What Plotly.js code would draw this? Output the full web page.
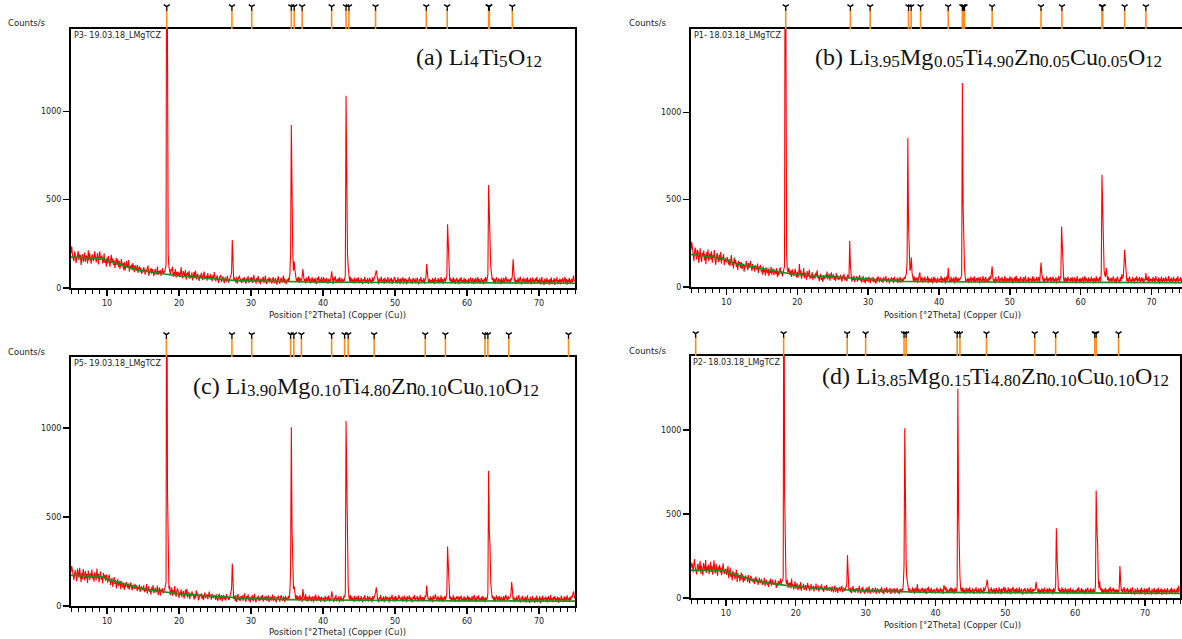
<!DOCTYPE html>
<html><head><meta charset="utf-8">
<script src="https://cdn.plot.ly/plotly-3.0.1.min.js"></script>
<style>html,body{margin:0;padding:0;overflow:hidden;background:#fff}#chart{width:1190px;height:639px}</style>
</head><body><div id="chart"></div>
<script>
// scan: 5.0 .. 75.0 °2θ, step 0.1 (one line = 5°)
const scanStart = 5, scanStep = 0.1;

const countsA = [
198,236,185,170,152,206,188,141,163,176, 209,158,190,183,130,171,192,148,165,201, 148,184,177,139,214,156,196,169,137,180, 190,152,162,207,181,145,174,198,133,166, 207,159,172,184,139,150,196,142,164,121,
172,139,181,161,120,155,188,143,168,130, 157,112,149,170,131,162,118,152,108,146, 163,126,140,104,147,98,139,152,115,127, 158,92,124,110,133,101,141,117,89,129, 118,98,131,85,109,122,93,115,80,104,
88,119,101,76,104,92,112,127,70,95, 98,113,81,107,95,67,89,108,86,76, 121,74,96,82,101,68,90,112,79,94, 88,105,130,2600,640,188,120,95,77,108, 98,121,64,88,75,107,59,92,83,70,
92,61,78,118,74,55,96,83,66,101, 47,79,88,64,96,52,71,60,88,43, 76,92,60,99,49,68,81,57,40,73, 57,86,64,45,77,93,50,62,70,41, 84,55,66,48,79,61,38,72,56,90,
62,38,55,71,45,29,58,66,74,33, 50,66,41,27,60,48,35,69,52,30, 44,58,70,84,272,95,41,59,36,30, 63,24,48,57,70,35,52,28,46,57, 33,61,40,25,54,47,68,29,38,58,
44,61,29,52,73,36,48,25,58,40, 67,31,49,21,55,38,44,64,27,46, 70,33,23,51,42,60,30,54,37,25, 49,62,33,28,56,41,19,52,66,35, 24,47,59,31,43,70,28,53,38,22,
48,33,57,41,80,190,922,420,200,98, 150,104,62,41,55,35,62,29,57,44, 36,63,107,70,38,51,24,59,36,47, 68,30,54,26,45,61,32,50,27,57, 39,22,58,43,66,28,48,35,62,31,
45,61,32,50,27,57,38,24,52,46, 33,58,95,60,22,58,43,66,28,48, 35,54,29,61,40,26,55,37,49,30, 52,70,1087,430,197,118,80,37,63,29, 55,33,48,24,59,40,28,54,36,61,
26,45,31,57,35,22,50,39,63,27, 46,34,56,23,42,58,30,44,25,61, 37,49,65,80,100,62,35,21,55,33, 46,64,28,40,52,24,59,35,47,29, 62,41,26,53,38,57,22,48,31,60,
58,30,44,25,61,37,49,21,55,33, 43,60,25,52,37,55,20,46,33,58, 62,28,49,36,23,57,41,30,54,26, 44,59,32,21,50,38,63,27,45,34, 56,24,48,62,135,76,45,30,52,27,
45,27,56,33,49,22,60,38,44,31, 57,26,48,35,62,29,51,24,43,58, 36,47,70,360,232,92,41,57,26,48, 34,61,27,50,23,45,57,30,46,21, 55,38,61,27,44,33,57,25,50,36,
42,26,53,31,47,60,28,39,55,22, 48,35,58,27,44,62,30,51,24,40, 57,33,46,21,53,37,62,28,45,75, 582,380,303,118,86,45,59,30,52,24, 46,61,34,27,55,39,48,22,57,31,
35,58,27,49,64,40,29,52,36,47, 30,55,43,72,163,98,37,53,22,45, 30,57,26,48,63,34,21,50,38,59, 24,44,53,31,60,27,46,35,57,20, 42,59,33,48,25,55,37,62,28,45,
31,55,20,47,62,29,41,18,53,36, 24,58,33,45,19,51,28,60,22,43, 35,56,17,49,38,61,26,44,31,54, 21,47,36,58,25,42,63,30,50,19, 46,34,57,23,41,52,28,49,70,38,
45];

const countsB = [
212,258,230,171,149,197,226,190,158,214, 203,137,184,221,166,143,195,178,209,152, 187,131,199,163,214,148,176,193,158,205, 139,182,168,211,150,127,176,194,160,143, 186,152,201,134,171,158,189,125,163,147,
141,172,155,128,160,119,151,183,124,146, 106,168,133,155,114,139,97,150,122,142, 109,143,101,131,128,88,125,112,150,118, 96,137,108,126,149,115,92,131,104,120, 88,125,112,99,134,81,117,102,127,93,
96,71,118,84,103,65,112,89,77,106, 62,94,81,115,70,92,106,68,99,84, 73,109,58,85,67,98,112,76,90,61, 88,100,120,2600,620,182,96,82,110,73, 67,95,58,101,84,63,79,106,72,55,
88,54,76,131,70,95,47,79,62,108, 51,83,66,42,91,58,74,99,45,68, 53,86,39,72,60,48,81,66,95,50, 63,34,57,76,41,52,29,68,45,60, 70,52,88,43,61,77,36,58,84,49,
56,73,41,62,35,80,48,66,39,59, 44,70,52,31,63,47,75,38,57,45, 33,71,58,62,264,120,46,30,58,39, 65,27,51,43,62,31,55,40,68,36, 54,25,47,63,30,42,20,57,35,49,
28,60,39,22,51,44,33,58,26,46, 37,19,53,32,61,40,27,55,44,30, 48,23,56,35,41,62,26,45,33,52, 20,44,38,57,29,49,24,60,36,42, 31,54,22,47,36,58,25,43,51,28,
41,58,46,60,79,150,853,360,130,92, 110,169,80,48,34,61,27,50,38,55, 23,46,64,84,30,42,57,25,49,36, 60,29,47,38,62,24,51,33,45,28, 56,21,45,60,31,49,37,24,53,40,
29,47,38,62,24,51,40,33,56,21, 45,60,31,110,49,40,26,58,35,47, 33,56,21,45,60,31,49,27,52,38, 44,57,68,1167,470,203,112,57,28,43, 35,52,22,48,36,59,27,44,53,30,
61,25,39,50,33,55,46,20,58,37, 42,28,63,34,24,49,57,31,44,26, 53,38,62,45,70,118,55,33,46,20, 58,37,42,28,63,34,24,49,38,57, 26,45,31,62,40,23,52,35,48,27,
60,43,30,55,21,46,36,58,25,64, 34,51,29,47,22,59,38,44,27,56, 31,48,63,25,42,35,57,20,50,39, 46,28,61,33,54,24,45,37,58,30, 43,56,25,64,140,80,41,33,54,22,
47,39,61,28,50,35,44,58,23,51, 36,60,29,45,33,56,21,48,39,62, 27,44,66,346,236,88,42,27,56,31, 49,23,60,37,45,29,52,34,57,26, 41,55,30,48,22,63,36,44,28,52,
26,48,34,57,21,43,62,30,51,38, 24,55,32,45,28,59,36,47,20,53, 39,27,61,33,50,24,46,58,31,80, 642,420,323,96,68,58,110,68,40,58, 29,47,36,53,25,44,61,38,30,50,
22,46,59,31,42,27,56,35,72,48, 60,120,213,156,70,33,50,22,46,59, 31,42,27,56,35,48,20,53,39,61, 29,47,36,58,24,43,55,30,49,22, 45,38,80,39,54,30,61,26,47,35,
45,26,58,34,49,21,62,37,43,28, 55,19,47,33,60,24,41,52,29,38, 57,22,46,35,63,31,48,27,53,40, 24,59,36,45,20,52,33,61,28,44, 37,56,23,48,31,62,26,45,39,54,
31];

const countsC = [
189,224,201,163,147,182,201,176,138,210, 192,159,215,171,134,186,150,208,167,143, 196,155,180,129,199,172,146,184,161,205, 153,176,137,190,168,145,211,158,181,132, 170,194,148,163,127,186,159,174,141,177,
165,131,148,176,152,119,142,158,107,137, 162,124,145,99,133,151,112,128,141,95, 140,117,104,130,90,121,108,135,115,99, 126,92,114,131,103,88,120,107,96,125, 98,116,84,108,93,121,79,102,111,90,
92,116,78,101,85,123,69,97,110,80, 93,64,105,83,118,72,91,102,75,87, 115,61,87,104,58,92,79,99,70,84, 90,112,135,2600,650,178,97,115,61,87, 104,58,90,63,112,71,52,86,99,77,
45,77,61,94,50,69,85,41,74,92, 58,96,47,66,79,38,70,55,83,62, 60,36,69,43,88,56,72,31,48,64, 54,71,40,62,33,58,76,45,52,67, 39,57,81,48,63,35,70,52,44,59,
57,34,66,41,29,53,70,33,46,61, 26,48,62,37,55,30,67,43,51,34, 40,57,78,96,238,88,40,57,29,61, 23,46,68,33,50,27,55,42,59,28, 50,71,34,24,56,39,65,30,47,20,
53,36,62,26,44,68,32,22,49,40, 58,29,46,31,55,37,63,25,42,51, 34,57,28,45,60,23,41,52,30,48, 64,27,39,55,33,21,50,43,58,36, 25,47,61,38,29,53,44,22,57,35,
46,31,55,42,82,200,1005,430,160,95, 110,60,40,60,34,55,42,28,61,37, 49,23,95,57,35,45,66,29,52,25, 43,59,31,48,26,55,38,21,56,41, 64,27,46,34,58,30,49,23,52,37,
32,46,23,57,39,27,52,35,59,25, 43,30,82,55,34,21,48,38,61,26, 44,33,54,22,40,56,29,42,24,59, 48,72,1040,660,190,110,50,36,61,28, 53,32,46,23,57,39,27,52,35,59,
25,43,30,55,34,21,48,38,61,26, 41,35,57,24,46,53,31,44,20,56, 36,47,62,75,105,55,34,21,48,38, 61,26,44,33,54,22,40,57,28,50, 36,47,20,53,32,44,62,27,39,50,
23,57,34,45,28,60,52,37,46,31, 54,25,41,58,30,47,22,55,36,43, 59,28,49,33,21,52,40,62,27,45, 38,56,24,47,35,61,29,42,50,26, 48,33,60,52,115,68,37,43,26,54,
32,47,21,58,37,42,65,50,29,44, 55,25,46,34,60,28,49,23,41,56, 30,45,72,334,212,86,40,55,25,46, 34,60,28,49,23,41,56,37,52,21, 53,37,59,26,42,32,55,24,48,35,
40,58,29,50,23,44,34,56,26,47, 62,31,45,22,54,38,60,27,43,35, 51,24,57,33,46,20,49,36,41,72, 760,420,330,130,84,44,57,29,50,23, 44,60,30,48,35,57,26,42,53,31,
34,56,26,47,62,41,29,55,37,45, 50,70,135,95,36,51,21,43,29,55, 25,46,61,33,20,48,37,57,23,42, 30,53,19,45,60,28,39,17,51,35, 23,56,32,43,18,49,27,58,21,41,
34,54,16,47,31,58,24,43,36,52, 27,49,20,55,38,29,61,33,45,22, 50,36,57,25,44,31,53,19,47,39, 28,59,35,42,21,54,30,48,26,60, 37,45,23,51,33,56,47,68,82,55,
40];

const countsD = [
178,210,195,152,196,231,184,167,140,189, 205,158,176,221,145,193,170,134,208,181, 160,226,149,187,163,199,142,178,215,155, 191,138,172,224,160,147,203,176,132,185, 168,197,150,181,136,174,206,158,143,170,
172,137,158,190,118,149,181,126,143,104, 162,130,151,110,139,168,95,147,121,133, 99,128,151,107,141,92,119,103,134,116, 125,96,138,110,87,121,132,101,114,93, 118,84,106,127,95,111,78,103,120,89,
94,113,77,99,86,121,70,95,108,79, 91,66,103,84,116,73,97,110,80,88, 82,110,60,88,71,101,93,76,115,85, 98,104,125,2600,630,185,100,82,110,60, 88,71,93,57,115,68,82,49,76,99,
55,71,88,46,64,80,52,95,43,70, 61,84,48,67,77,44,62,90,56,73, 41,65,83,50,58,72,39,68,54,86, 47,63,75,40,58,69,52,81,45,60, 36,70,57,49,78,42,63,55,44,67,
55,38,69,47,33,60,74,36,52,64, 30,58,45,66,39,51,72,34,49,62, 41,56,70,80,255,90,45,58,34,63, 29,50,71,38,53,32,57,44,60,30, 52,73,38,27,57,41,66,33,49,24,
55,39,63,28,46,70,35,26,51,43, 59,31,48,36,62,25,44,57,33,50, 27,54,40,65,30,47,22,58,38,45, 63,29,51,36,42,60,24,48,55,32, 44,58,26,50,37,61,31,46,23,53,
49,35,56,44,86,200,1010,420,210,118, 90,63,37,58,30,46,31,64,40,53, 26,60,38,48,82,32,56,41,29,52, 45,62,36,51,29,57,40,24,59,45, 67,30,50,37,61,28,47,35,54,42,
28,47,62,36,51,29,44,60,33,52, 42,24,76,59,45,67,30,50,37,28, 55,39,64,31,57,35,50,26,61,42, 30,75,1245,520,250,128,55,39,64,31, 57,35,50,26,61,42,30,56,38,63,
28,47,33,58,37,24,52,41,65,29, 48,36,58,25,44,60,32,46,27,63, 39,51,64,80,110,58,37,24,52,41, 63,27,49,35,57,23,45,61,30,47, 27,63,39,51,23,57,35,48,66,30,
60,32,46,27,63,39,51,23,57,35, 48,66,30,42,54,26,61,37,49,31, 64,28,45,56,33,21,52,40,61,36, 25,47,58,34,50,29,62,41,23,55, 38,52,44,55,96,62,40,31,57,26,
47,29,58,35,51,24,62,40,46,33, 57,26,44,61,30,53,38,49,22,59, 34,46,72,415,250,95,43,59,28,50, 37,64,31,53,26,45,60,35,49,23, 56,41,28,62,38,47,30,55,25,44,
33,49,24,57,40,63,29,46,35,59, 27,52,38,44,21,56,33,48,61,30, 45,26,58,37,50,23,55,41,34,78, 640,420,330,120,58,100,47,61,32,54, 26,48,37,60,29,51,44,23,56,38,
66,43,30,55,39,61,27,48,35,52, 24,47,32,59,190,100,39,55,28,50, 65,36,23,52,40,61,26,46,33,57, 22,49,64,31,43,20,55,38,26,60, 35,47,21,53,30,62,24,45,37,58,
19,51,33,57,22,49,64,31,43,20, 55,38,26,60,35,47,21,53,30,62, 24,45,37,58,19,51,41,28,56,34, 47,22,59,36,44,27,53,31,62,25, 48,39,55,23,46,33,60,29,72,40,
45];

// fitted background (green)
const bgX = [5,6,7,8,9,9.5,10,11,12,13,14,15,16,17,18,19,20,22,24,26,28,30,35,40,50,60,75];
const bgA = [175,174,173,172,171,168,155,142,130,117,104,96,90,84,78,72,68,62,56,47,42,40,35,33,31,29,27];
const bgB = [186,182,176,171,166,162,156,136,128,123,115,104,96,88,82,76,70,63,59,55,50,46,32,30,28,27,25];
const bgC = [172,171,170,169,166,162,150,140,128,116,104,96,90,84,78,73,68,62,56,50,45,41,36,33,31,29,27];
const bgD = [165,165,166,166,165,163,158,146,132,118,105,96,90,84,78,72,67,61,55,50,46,42,37,34,32,30,28];

// reference pattern line positions (°2θ)
const refA = [18.3,27.35,30.1,35.6,36.0,37.1,41.2,43.2,43.6,47.3,54.35,57.25,63.0,63.1,66.3];
const refB = [18.37,27.5,30.28,35.7,36.07,37.4,41.3,43.3,43.45,43.6,47.5,54.4,57.35,63.0,63.1,66.2,69.2];
const refC = [18.25,27.35,30.1,35.5,35.95,37.0,41.2,43.0,43.5,47.1,54.2,57.0,62.5,62.9,65.8,74.1];
const refD = [5.67,18.26,27.36,30.0,35.5,35.8,43.1,43.5,47.3,54.2,57.2,62.8,63.0,66.2];

const sampleNames = ["P3- 19.03.18_LMgTCZ","P1- 18.03.18_LMgTCZ","P5- 19.03.18_LMgTCZ","P2- 18.03.18_LMgTCZ"];
const panelTitles = [
 "(a) Li<sub>4</sub>Ti<sub>5</sub>O<sub>12</sub>",
 "(b) Li<sub>3.95</sub>Mg<sub>0.05</sub>Ti<sub>4.90</sub>Zn<sub>0.05</sub>Cu<sub>0.05</sub>O<sub>12</sub>",
 "(c) Li<sub>3.90</sub>Mg<sub>0.10</sub>Ti<sub>4.80</sub>Zn<sub>0.10</sub>Cu<sub>0.10</sub>O<sub>12</sub>",
 "(d) Li<sub>3.85</sub>Mg<sub>0.15</sub>Ti<sub>4.80</sub>Zn<sub>0.10</sub>Cu<sub>0.10</sub>O<sub>12</sub>"];
const xTitle = "Position [°2Theta] (Copper (Cu))";
const yTitle = "Counts/s";
const yTickVals = [0,500,1000];

const counts = [countsA,countsB,countsC,countsD];
const bgs = [bgA,bgB,bgC,bgD];
const refs = [refA,refB,refC,refD];

// layout geometry (pixels)
const W = 1190, H = 639;
const boxes = [
 {l:71, r:575, t:29, b:288, xmax:75, ymax:1465, tr:541, tb:66, cx:6, cy:23, nx:72, ny:35, ax:337, ay:315},
 {l:691, r:1187, t:29, b:287, xmax:75, ymax:1476, tr:1161, tb:66, cx:627, cy:23, nx:692, ny:35, ax:952, ay:315},
 {l:71, r:575, t:357, b:606, xmax:75, ymax:1399, tr:538, tb:395, cx:6, cy:352, nx:72, ny:363, ax:337, ay:632},
 {l:691, r:1180, t:356, b:598, xmax:75, ymax:1440, tr:1168, tb:385, cx:627, cy:351, nx:691, ny:362, ax:952, ay:625}
];

const serif = "Liberation Serif, Times New Roman, serif";
const mainSize = 24, subSize = 17, subDrop = 2.5, descent = 0.216;
const cv = document.createElement("canvas").getContext("2d");
function textWidth(t, size){ cv.font = size + 'px "Liberation Serif"'; return cv.measureText(t).width; }
function splitSub(s){
  const parts = [], re = /<sub>(.*?)<\/sub>/g; let last = 0, m;
  while ((m = re.exec(s))) {
    if (m.index > last) parts.push({t:s.slice(last, m.index), sub:false});
    parts.push({t:m[1], sub:true}); last = re.lastIndex;
  }
  if (last < s.length) parts.push({t:s.slice(last), sub:false});
  return parts;
}

const axFont = {family:"DejaVu Sans, Verdana, sans-serif", size:8, color:"#222"};
const traces = [], annotations = [];
const layout = {width:W, height:H, margin:{l:0,r:0,t:0,b:0}, showlegend:false,
  paper_bgcolor:"#fff", plot_bgcolor:"#fff", annotations:annotations};

boxes.forEach((bx,k)=>{
  const xa = k ? "x"+(k+1) : "x";
  const ya = k ? "y"+(k+1) : "y";
  const ys = "y"+(k+5);
  traces.push({type:"scatter", mode:"lines", x0:scanStart, dx:scanStep, y:counts[k],
    xaxis:xa, yaxis:ya, line:{color:"#ff0000", width:1.1}, hoverinfo:"skip"});
  traces.push({type:"scatter", mode:"lines", x:bgX, y:bgs[k], xaxis:xa, yaxis:ya,
    line:{color:"#1e8c1e", width:1.7}, hoverinfo:"skip"});
  const lx = [], ly = [];
  refs[k].forEach(p=>{ lx.push(p,p,null); ly.push(0,0.74,null); });
  traces.push({type:"scatter", mode:"lines", x:lx, y:ly, xaxis:xa, yaxis:ys,
    line:{color:"#ff8c1a", width:1.6}, hoverinfo:"skip", cliponaxis:false});
  traces.push({type:"scatter", mode:"markers", x:refs[k], y:refs[k].map(()=>0.86), xaxis:xa, yaxis:ys,
    marker:{symbol:"y-down", size:5, color:"#000", line:{color:"#000", width:1.3}}, hoverinfo:"skip", cliponaxis:false});

  const xk = k ? "xaxis"+(k+1) : "xaxis";
  const yk = k ? "yaxis"+(k+1) : "yaxis";
  layout[xk] = {domain:[bx.l/W, bx.r/W], range:[scanStart, bx.xmax], anchor:ya,
    showline:true, linecolor:"#000", linewidth:2, mirror:true, showgrid:false, zeroline:false,
    ticks:"outside", ticklen:6, tickwidth:1.3, tickcolor:"#000", tickmode:"linear", tick0:0, dtick:10,
    minor:{ticks:"outside", tickmode:"linear", tick0:0, dtick:1, ticklen:3.5, tickwidth:1, tickcolor:"#000", showgrid:false},
    tickfont:axFont, fixedrange:true};
  layout[yk] = {domain:[1-bx.b/H, 1-bx.t/H], range:[0, bx.ymax], anchor:xa,
    showline:true, linecolor:"#000", linewidth:2, mirror:true, showgrid:false, zeroline:false,
    ticks:"outside", ticklen:6, tickwidth:1.3, tickcolor:"#000", tickmode:"array", tickvals:yTickVals,
    tickfont:axFont, fixedrange:true};
  layout["yaxis"+(k+5)] = {domain:[1-bx.t/H, 1-(bx.t-26)/H], range:[0,1], anchor:xa, visible:false, fixedrange:true};

  // panel title laid out piece by piece (normal text + subscripts)
  const segs = splitSub(panelTitles[k]);
  const widths = segs.map(s => textWidth(s.t, s.sub ? subSize : mainSize));
  let x = bx.tr - widths.reduce((a,b)=>a+b, 0);
  segs.forEach((s,i)=>{
    const size = s.sub ? subSize : mainSize;
    const base = bx.tb + (s.sub ? subDrop : 0);
    annotations.push({xref:"paper", yref:"paper", x:x/W, y:1-(base + descent*size)/H,
      xanchor:"left", yanchor:"bottom", text:s.t.trim(), showarrow:false, borderpad:0,
      font:{family:serif, size:size, color:"#111"}});
    x += widths[i];
  });
  annotations.push({xref:"paper", yref:"paper", x:bx.cx/W, y:1-bx.cy/H, xanchor:"left", yanchor:"middle",
    text:yTitle, showarrow:false, font:{family:axFont.family, size:8.5, color:"#222"}});
  annotations.push({xref:"paper", yref:"paper", x:bx.nx/W, y:1-bx.ny/H, xanchor:"left", yanchor:"middle",
    text:sampleNames[k], showarrow:false, font:{family:axFont.family, size:8, color:"#222"}});
  annotations.push({xref:"paper", yref:"paper", x:bx.ax/W, y:1-bx.ay/H, xanchor:"center", yanchor:"middle",
    text:xTitle, showarrow:false, font:{family:axFont.family, size:8.5, color:"#222"}});
});

Plotly.newPlot("chart", traces, layout, {staticPlot:true, displayModeBar:false});
</script></body></html>
